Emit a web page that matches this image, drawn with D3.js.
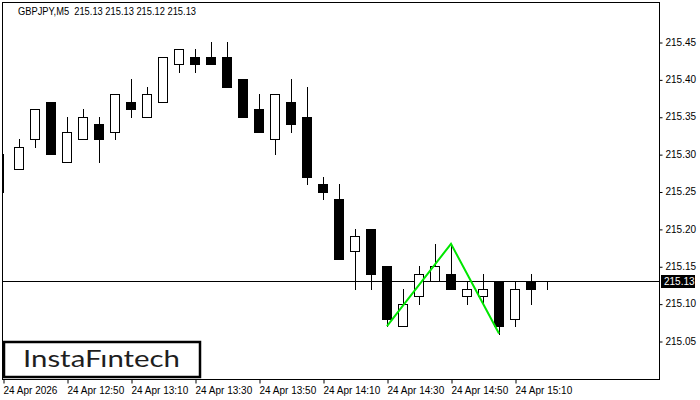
<!DOCTYPE html>
<meta charset="utf-8">
<head>
    <script type="text/javascript" src="https://d3js.org/d3.v7.min.js"></script>
    <style>
        body { margin: 0; background: white; }
        text { font-family: "Liberation Sans", Arial, sans-serif; }
    </style>
    <title>GBPJPY M5</title>
</head>
<body>
<script>

    var width = 700
    var height = 400

    // candles, M5, 24 Apr 2026
    var times = ["12:30", "12:35", "12:40", "12:45", "12:50", "12:55", "13:00", "13:05", "13:10", "13:15",
        "13:20", "13:25", "13:30", "13:35", "13:40", "13:45", "13:50", "13:55", "14:00", "14:05",
        "14:10", "14:15", "14:20", "14:25", "14:30", "14:35", "14:40", "14:45", "14:50", "14:55",
        "15:00", "15:05", "15:10", "15:15", "15:20"]
    var opens = [215.29, 215.28, 215.32, 215.37, 215.29, 215.32, 215.34, 215.33, 215.37, 215.35,
        215.37, 215.42, 215.43, 215.43, 215.43, 215.40, 215.36, 215.32, 215.37, 215.35,
        215.26, 215.24, 215.17, 215.20, 215.15, 215.07, 215.11, 215.13, 215.14, 215.11,
        215.11, 215.13, 215.08, 215.13, 215.13]
    var highs = [215.30, 215.32, 215.36, 215.37, 215.35, 215.36, 215.35, 215.38, 215.40, 215.39,
        215.43, 215.44, 215.44, 215.45, 215.45, 215.40, 215.38, 215.38, 215.40, 215.39,
        215.27, 215.26, 215.20, 215.20, 215.15, 215.12, 215.15, 215.18, 215.18, 215.13,
        215.14, 215.13, 215.13, 215.14, 215.13]
    var lows = [215.25, 215.28, 215.31, 215.30, 215.29, 215.32, 215.29, 215.32, 215.35, 215.35,
        215.37, 215.41, 215.41, 215.42, 215.39, 215.35, 215.33, 215.30, 215.33, 215.26,
        215.24, 215.16, 215.12, 215.12, 215.07, 215.07, 215.10, 215.13, 215.12, 215.10,
        215.10, 215.06, 215.07, 215.10, 215.12]
    var closes = [215.29, 215.31, 215.36, 215.30, 215.33, 215.35, 215.32, 215.38, 215.36, 215.38,
        215.43, 215.44, 215.42, 215.42, 215.39, 215.35, 215.33, 215.38, 215.34, 215.27,
        215.25, 215.16, 215.19, 215.14, 215.08, 215.10, 215.14, 215.15, 215.12, 215.12,
        215.12, 215.07, 215.12, 215.12, 215.13]

    // double top pattern
    var patternTimes = ["14:30", "14:50", "15:05"]
    var patternPrices = [215.07, 215.18, 215.06]

    var yTicks = [215.05, 215.10, 215.15, 215.20, 215.25, 215.30, 215.35, 215.40, 215.45]
    var xTickTimes = ["12:30", "12:50", "13:10", "13:30", "13:50", "14:10", "14:30", "14:50", "15:10"]
    var xTickLabels = ["24 Apr 2026", "24 Apr 12:50", "24 Apr 13:10", "24 Apr 13:30", "24 Apr 13:50",
        "24 Apr 14:10", "24 Apr 14:30", "24 Apr 14:50", "24 Apr 15:10"]

    var lastPrice = 215.13
    var title = "GBPJPY,M5  215.13 215.13 215.12 215.13"

    var plot = {left: 2.5, top: 2.5, right: 659.5, bottom: 379.5}

    var parseTime = d3.timeParse("%Y-%m-%d %H:%M")
    function toDate(t) { return parseTime("2026-04-24 " + t) }

    var candles = times.map(function (t, i) {
        return {t: toDate(t), o: opens[i], h: highs[i], l: lows[i], c: closes[i]}
    })

    var x = d3.scaleTime()
        .domain([toDate("12:30"), toDate("15:20")])
        .range([3, 547])

    var y = d3.scaleLinear()
        .domain([215.05, 215.45])
        .range([341, 42])

    var svg = d3.select("body").append("svg")
        .attr("width", width)
        .attr("height", height)

    svg.append("defs").append("clipPath").attr("id", "clip")
        .append("rect")
        .attr("x", plot.left).attr("y", plot.top)
        .attr("width", plot.right - plot.left).attr("height", plot.bottom - plot.top)

    var chart = svg.append("g").attr("clip-path", "url(#clip)")

    // price line
    chart.append("line")
        .attr("x1", plot.left).attr("x2", plot.right)
        .attr("y1", Math.round(y(lastPrice)) + 0.5).attr("y2", Math.round(y(lastPrice)) + 0.5)
        .style("stroke", "black")
        .style("stroke-width", 1)

    var c = chart.selectAll("g.candle")
        .data(candles)
        .enter()
        .append("g")
        .attr("class", "candle")

    c.append("line")
        .attr("x1", d => x(d.t) + 0.5).attr("x2", d => x(d.t) + 0.5)
        .attr("y1", d => Math.round(y(d.h))).attr("y2", d => Math.round(y(d.l)) + 1)
        .style("stroke", "black")
        .style("stroke-width", 1)

    c.append("rect")
        .attr("x", d => x(d.t) - 4.5)
        .attr("width", 9)
        .attr("y", d => Math.round(y(Math.max(d.o, d.c))) + 0.5)
        .attr("height", d => Math.round(y(Math.min(d.o, d.c))) - Math.round(y(Math.max(d.o, d.c))))
        .style("fill", d => d.c > d.o ? "white" : "black")
        .style("stroke", "black")
        .style("stroke-width", 1)

    // pattern
    var line = d3.line()
        .x(d => x(toDate(d[0])))
        .y(d => y(d[1]))

    chart.append("path")
        .datum(patternTimes.map((t, i) => [t, patternPrices[i]]))
        .attr("d", line)
        .style("fill", "none")
        .style("stroke", "#00e600")
        .style("stroke-width", 2)

    // frame
    svg.append("rect")
        .attr("x", plot.left).attr("y", plot.top)
        .attr("width", plot.right - plot.left).attr("height", plot.bottom - plot.top)
        .style("fill", "none")
        .style("stroke", "black")
        .style("stroke-width", 1)

    // y axis
    var yAxis = svg.append("g")
        .attr("transform", "translate(" + plot.right + ",0)")
        .call(d3.axisRight(y).tickValues(yTicks).tickSize(3).tickFormat(d3.format(".2f")))
    yAxis.select(".domain").remove()
    yAxis.selectAll("line").attr("transform", "translate(0,0.5)")
    yAxis.selectAll("text")
        .attr("x", 6)
        .style("font-size", "10px")
        .style("fill", "black")

    // current price label
    var py = Math.round(y(lastPrice)) + 0.5
    svg.append("rect")
        .attr("x", 661).attr("y", py - 6.5)
        .attr("width", 34).attr("height", 13)
        .style("fill", "black")
    svg.append("text")
        .attr("x", 664).attr("y", py)
        .attr("dy", "0.35em")
        .style("font-size", "10px")
        .style("fill", "white")
        .text(d3.format(".2f")(lastPrice))

    // x axis
    var xAxis = svg.append("g")
        .attr("transform", "translate(0," + plot.bottom + ")")
        .call(d3.axisBottom(x)
            .tickValues(xTickTimes.map(toDate))
            .tickSize(4)
            .tickFormat((d, i) => xTickLabels[i]))
    xAxis.select(".domain").remove()
    xAxis.selectAll("line").attr("transform", "translate(0.5,0)")
    xAxis.selectAll("text")
        .style("text-anchor", "start")
        .style("font-size", "10px")
        .style("fill", "black")
        .attr("x", 0)

    // title
    svg.append("text")
        .attr("x", 18).attr("y", 15)
        .attr("xml:space", "preserve")
        .style("white-space", "pre")
        .attr("textLength", 178)
        .attr("lengthAdjust", "spacingAndGlyphs")
        .style("font-size", "10px")
        .style("fill", "black")
        .text(title)

    // logo
    svg.append("rect")
        .attr("x", 4).attr("y", 342)
        .attr("width", 196).attr("height", 35)
        .style("fill", "white")
        .style("stroke", "black")
        .style("stroke-width", 2.5)
    svg.append("text")
        .attr("x", 23).attr("y", 367)
        .attr("textLength", 157)
        .attr("lengthAdjust", "spacingAndGlyphs")
        .style("font-family", "Lato, sans-serif")
        .style("font-size", "24px")
        .style("fill", "#1e1e1e")
        .text("InstaF\u0131ntech")

</script>
</body>
</html>
